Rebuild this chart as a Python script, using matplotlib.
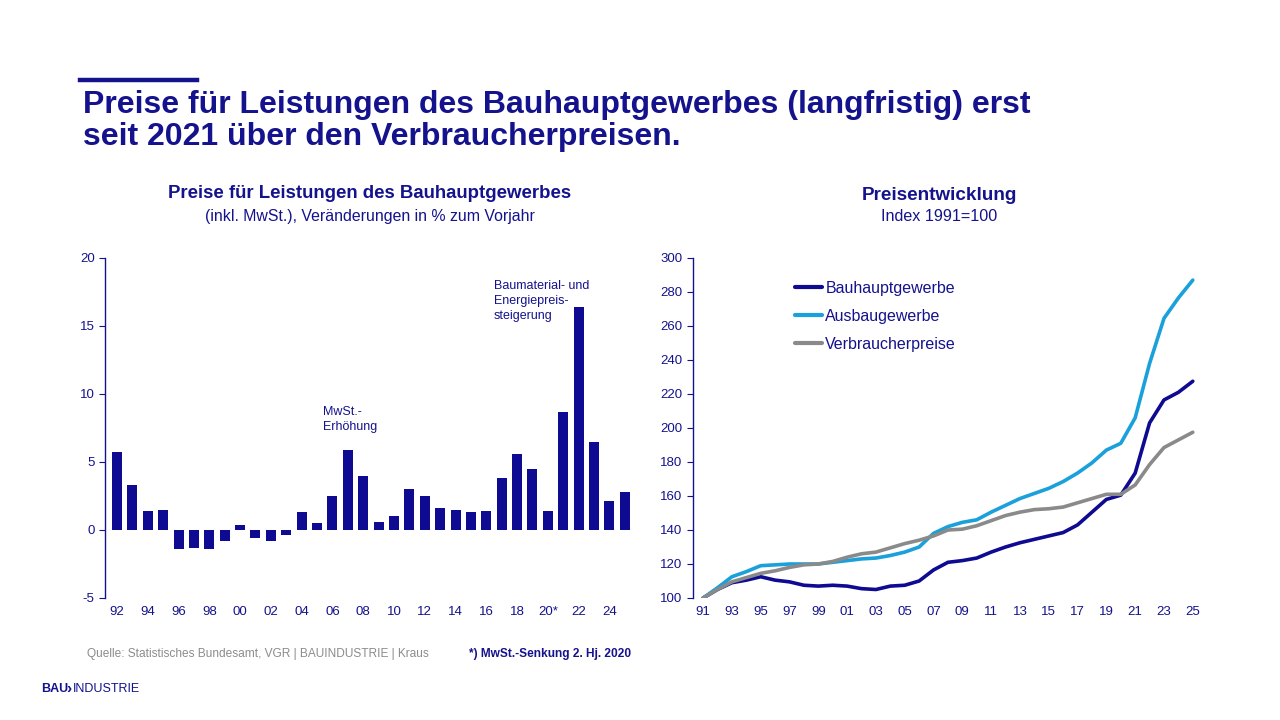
import matplotlib
matplotlib.use("Agg")
import matplotlib.pyplot as plt
from matplotlib.lines import Line2D

plt.rcParams['font.family'] = ['Liberation Sans', 'DejaVu Sans']
plt.rcParams['axes.unicode_minus'] = False

NAVY = '#14128c'
BAR = '#0f0a92'
LIGHT = '#1aa0da'
GREY = '#8a8a8a'

# ---- data: bar chart (change in % vs. previous year) ----
bar_years = list(range(1992, 2026))
bar_values = [5.7, 3.3, 1.4, 1.5, -1.4, -1.3, -1.4, -0.8, 0.4, -0.6,
              -0.8, -0.4, 1.3, 0.5, 2.5, 5.9, 4.0, 0.6, 1.0, 3.0,
              2.5, 1.6, 1.5, 1.3, 1.4, 3.8, 5.6, 4.5, 1.4, 8.7,
              16.4, 6.5, 2.1, 2.8]
bar_tick_years = list(range(1992, 2026, 2))
bar_tick_labels = ['92', '94', '96', '98', '00', '02', '04', '06', '08', '10',
                   '12', '14', '16', '18', '20*', '22', '24']

# ---- data: index chart (1991 = 100) ----
line_years = list(range(1991, 2026))
bauhaupt = [100, 105, 109, 110.5, 112.5, 110.5, 109.5, 107.5, 107, 107.5,
            107, 105.5, 105, 107, 107.5, 110, 116.5, 121, 122, 123.5,
            127, 130, 132.5, 134.5, 136.5, 138.5, 143, 150.5, 158, 160.5,
            173.5, 203, 216.5, 221, 227.5]
ausbau = [100, 106, 112.5, 115.5, 119, 119.5, 120, 120, 120, 121,
          122, 123, 123.5, 125, 127, 130, 138, 142, 144.5, 146,
          150.5, 154.5, 158.5, 161.5, 164.5, 168.5, 173.5, 179.5, 187, 191,
          206, 238, 264.5, 276.5, 287]
verbraucher = [100, 105, 109.5, 112, 114.5, 116, 118, 119.5, 120, 121.5,
               124, 126, 127, 129.5, 132, 134, 136.5, 140, 140.5, 142.5,
               145.5, 148.5, 150.5, 152, 152.5, 153.5, 156, 158.5, 161, 161,
               166.5, 178.5, 188.5, 193, 197.5]
line_tick_years = list(range(1991, 2026, 2))
line_tick_labels = ['%02d' % (y % 100) for y in line_tick_years]
series_names = ['Bauhauptgewerbe', 'Ausbaugewerbe', 'Verbraucherpreise']

fig = plt.figure(figsize=(12.8, 7.2), dpi=100)
fig.patch.set_facecolor('white')

# header bar + title
fig.add_artist(Line2D([80/1280, 197/1280], [1-80/720, 1-80/720], color=NAVY, lw=3.2,
                      transform=fig.transFigure))
fig.text(83/1280, 1-105/720, 'Preise für Leistungen des Bauhauptgewerbes (langfristig) erst',
         fontsize=23.0, fontweight='bold', color=NAVY, va='center', ha='left')
fig.text(83/1280, 1-137/720, 'seit 2021 über den Verbraucherpreisen.',
         fontsize=23.0, fontweight='bold', color=NAVY, va='center', ha='left')

# subtitles
fig.text(370/1280, 1-194/720, 'Preise für Leistungen des Bauhauptgewerbes',
         fontsize=13.4, fontweight='bold', color=NAVY, ha='center', va='center')
fig.text(370/1280, 1-216/720, '(inkl. MwSt.), Veränderungen in % zum Vorjahr',
         fontsize=11.4, color=NAVY, ha='center', va='center')
fig.text(939/1280, 1-195/720, 'Preisentwicklung',
         fontsize=13.6, fontweight='bold', color=NAVY, ha='center', va='center')
fig.text(939/1280, 1-216/720, 'Index 1991=100',
         fontsize=11.6, color=NAVY, ha='center', va='center')

# ---- bar chart ----
ax1 = fig.add_axes([105/1280, 1-598/720, (634-105)/1280, (598-258)/720])
ax1.bar(bar_years, bar_values, width=0.65, color=BAR)
ax1.set_xlim(1991.22, 2025.6)
ax1.set_ylim(-5, 20)
ax1.set_yticks([-5, 0, 5, 10, 15, 20])
ax1.set_xticks(bar_tick_years)
ax1.set_xticklabels(bar_tick_labels)
for s in ['top', 'right', 'bottom']:
    ax1.spines[s].set_visible(False)
ax1.spines['left'].set_color(NAVY)
ax1.spines['left'].set_linewidth(1.0)
ax1.tick_params(axis='y', colors=NAVY, labelcolor=NAVY, labelsize=9.5, length=4, direction='out')
ax1.tick_params(axis='x', length=0, labelcolor=NAVY, labelsize=9.5, pad=6)
ax1.text(2005.4, 7.1, 'MwSt.-\nErhöhung', fontsize=9, color=NAVY, va='bottom', ha='left',
         linespacing=1.35)
ax1.text(2016.5, 15.3, 'Baumaterial- und\nEnergiepreis-\nsteigerung', fontsize=9, color=NAVY,
         va='bottom', ha='left', linespacing=1.35)

# ---- line chart ----
ax2 = fig.add_axes([693/1280, 1-598/720, (1200-693)/1280, (598-258)/720])
ax2.plot(line_years, bauhaupt, color=BAR, lw=2.6, label=series_names[0], solid_capstyle='round')
ax2.plot(line_years, ausbau, color=LIGHT, lw=2.6, label=series_names[1], solid_capstyle='round')
ax2.plot(line_years, verbraucher, color=GREY, lw=2.6, label=series_names[2], solid_capstyle='round')
ax2.set_xlim(1990.3, 2025.5)
ax2.set_ylim(100, 300)
ax2.set_yticks(list(range(100, 301, 20)))
ax2.set_xticks(line_tick_years)
ax2.set_xticklabels(line_tick_labels)
for s in ['top', 'right', 'bottom']:
    ax2.spines[s].set_visible(False)
ax2.spines['left'].set_color(NAVY)
ax2.spines['left'].set_linewidth(1.0)
ax2.tick_params(axis='y', colors=NAVY, labelcolor=NAVY, labelsize=9.5, length=4, direction='out')
ax2.tick_params(axis='x', length=0, labelcolor=NAVY, labelsize=9.5, pad=6)
leg = ax2.legend(loc='upper left', bbox_to_anchor=(0.201, 0.933), frameon=False,
                 fontsize=11.5, handlelength=1.7, handletextpad=0.2, labelspacing=0.82,
                 borderaxespad=0, borderpad=0)
for t in leg.get_texts():
    t.set_color(NAVY)
for h in leg.get_lines():
    h.set_linewidth(3)

# footer
fig.text(87/1280, 1-654/720, 'Quelle: Statistisches Bundesamt, VGR | BAUINDUSTRIE | Kraus',
         fontsize=8.6, color='#8c8c8c', va='center', ha='left')
fig.text(469/1280, 1-654/720, '*) MwSt.-Senkung 2. Hj. 2020',
         fontsize=8.6, fontweight='bold', color=NAVY, va='center', ha='left')
fig.text(41/1280, 1-689/720, 'BAU', fontsize=9, fontweight='bold', color=NAVY, va='center', ha='left')
fig.text(66/1280, 1-689/720, '\u203a', fontsize=11, fontweight='bold', color=NAVY, va='center', ha='left')
fig.text(73/1280, 1-689/720, 'INDUSTRIE', fontsize=9, color=NAVY, va='center', ha='left')

fig.savefig('out.png', dpi=100, facecolor='white')
